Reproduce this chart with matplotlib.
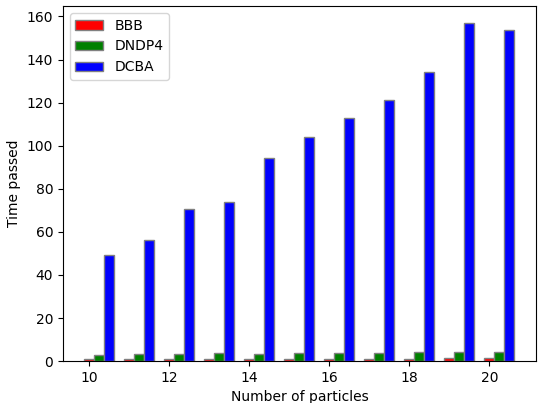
import numpy as np
from matplotlib import pyplot as plt

particles = [10, 11, 12, 13, 14, 15, 16, 17, 18, 19, 20]
bbb = [1.0, 1.0, 1.0, 1.0, 1.0, 1.0, 1.0, 1.0, 1.0, 1.5, 1.5]
dndp4 = [2.8, 3.4, 3.3, 3.6, 3.3, 3.6, 3.6, 3.6, 4.0, 4.0, 4.3]
dcba = [49.3, 56, 70.5, 74, 94.5, 104, 113, 121, 134, 157, 153.5]

x = np.array(particles)
w = 0.25

fig, ax = plt.subplots(figsize=(5.38, 4.03), dpi=100)
ax.bar(x, bbb, width=w, color='red', edgecolor='grey', label='BBB')
ax.bar(x + w, dndp4, width=w, color='green', edgecolor='grey', label='DNDP4')
ax.bar(x + 2 * w, dcba, width=w, color='blue', edgecolor='grey', label='DCBA')

ax.set_xlabel('Number of particles')
ax.set_ylabel('Time passed')
ax.legend(loc='upper left')

plt.subplots_adjust(left=0.117, right=0.996, top=0.985, bottom=0.104)
plt.savefig('out.png')
